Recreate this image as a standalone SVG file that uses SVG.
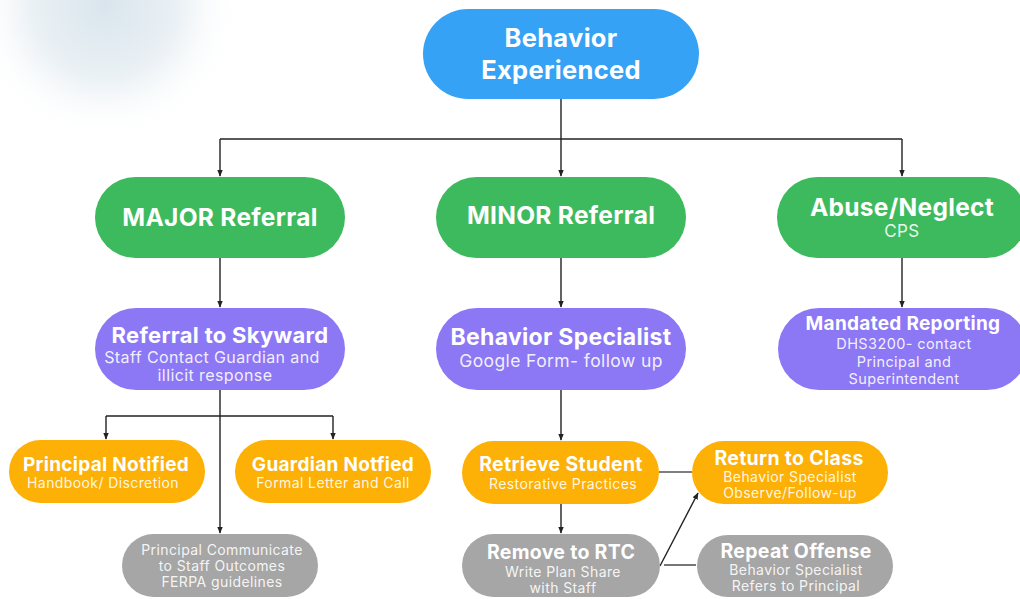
<svg xmlns="http://www.w3.org/2000/svg" width="1020" height="599" viewBox="0 0 1020 599">
  <style>
    .t { font-family: Inter, "Noto Sans", "Liberation Sans", sans-serif; fill: #ffffff; fill-opacity: 0.9; text-anchor: middle; letter-spacing: 0.4px; }
    .b { font-weight: 700; letter-spacing: 0.3px; fill-opacity: 1; }
    .blue { fill: #36A2F5; }
    .green { fill: #3DBA5E; }
    .purple { fill: #8C78F5; }
    .orange { fill: #FDB005; }
    .gray { fill: #A6A6A6; }
    .ln { fill: none; stroke: #222222; stroke-width: 1.4; }
    .ln2 { fill: none; stroke: #555555; stroke-width: 1.6; }
  </style>
  <defs>
    <radialGradient id="haze" cx="105" cy="5" r="135" gradientUnits="userSpaceOnUse">
      <stop offset="0" stop-color="#d9e5ed"/>
      <stop offset="0.55" stop-color="#ebf1f5"/>
      <stop offset="1" stop-color="#ffffff" stop-opacity="0"/>
    </radialGradient>
    <marker id="arr" viewBox="0 0 10 10" refX="9" refY="5" markerWidth="5" markerHeight="5" orient="auto">
      <path d="M0,1 L10,5 L0,9 z" fill="#222222"/>
    </marker>
  </defs>

  <rect width="1020" height="599" fill="#ffffff"/>
  <rect width="300" height="160" fill="url(#haze)"/>

  <g id="connectors">
    <path class="ln" d="M561,99 V139"/>
    <path class="ln" d="M220,139 H902"/>
    <path class="ln" d="M220,139 V176" marker-end="url(#arr)"/>
    <path class="ln" d="M561,139 V176" marker-end="url(#arr)"/>
    <path class="ln" d="M902,139 V176" marker-end="url(#arr)"/>
    <path class="ln" d="M220,258 V307" marker-end="url(#arr)"/>
    <path class="ln" d="M561,258 V307" marker-end="url(#arr)"/>
    <path class="ln" d="M902,258 V307" marker-end="url(#arr)"/>
    <path class="ln" d="M106,416 H333"/>
    <path class="ln" d="M106,416 V439" marker-end="url(#arr)"/>
    <path class="ln" d="M333,416 V439" marker-end="url(#arr)"/>
    <path class="ln" d="M220,390 V533" marker-end="url(#arr)"/>
    <path class="ln" d="M561,390 V440" marker-end="url(#arr)"/>
    <path class="ln" d="M561,504 V533" marker-end="url(#arr)"/>
    <path class="ln2" d="M659,472 H692"/>
    <path class="ln" d="M660,566 L698,493" marker-end="url(#arr)"/>
    <path class="ln2" d="M664,565 H696"/>
  </g>

  <g id="behavior-experienced">
    <rect class="blue" x="423" y="9" width="276" height="90" rx="45"/>
    <text class="t b" x="561" y="47" font-size="25.5">Behavior</text>
    <text class="t b" x="561" y="79" font-size="25.5">Experienced</text>
  </g>

  <g id="major-referral">
    <rect class="green" x="95" y="177" width="250" height="81" rx="40.5"/>
    <text class="t b" x="220" y="226" font-size="24.5">MAJOR Referral</text>
  </g>

  <g id="minor-referral">
    <rect class="green" x="436" y="177" width="250" height="81" rx="40.5"/>
    <text class="t b" x="561" y="224" font-size="24.5">MINOR Referral</text>
  </g>

  <g id="abuse-neglect">
    <rect class="green" x="777" y="177" width="250" height="81" rx="40.5"/>
    <text class="t b" x="902" y="216" font-size="24.5">Abuse/Neglect</text>
    <text class="t" x="902" y="237" font-size="17">CPS</text>
  </g>

  <g id="referral-skyward">
    <rect class="purple" x="95" y="308" width="250" height="82" rx="41"/>
    <text class="t b" x="220" y="343" font-size="22">Referral to Skyward</text>
    <text class="t" x="212" y="363" font-size="16">Staff Contact Guardian and</text>
    <text class="t" x="215" y="381" font-size="16">illicit response</text>
  </g>

  <g id="behavior-specialist">
    <rect class="purple" x="436" y="308" width="250" height="82" rx="41"/>
    <text class="t b" x="561" y="345" font-size="23">Behavior Specialist</text>
    <text class="t" x="561" y="367" font-size="17.5">Google Form- follow up</text>
  </g>

  <g id="mandated-reporting">
    <rect class="purple" x="778" y="308" width="250" height="82" rx="41"/>
    <text class="t b" x="903" y="330" font-size="19">Mandated Reporting</text>
    <text class="t" x="904" y="349" font-size="14.5">DHS3200- contact</text>
    <text class="t" x="904" y="367" font-size="14.5">Principal and</text>
    <text class="t" x="904" y="384" font-size="14.5">Superintendent</text>
  </g>

  <g id="principal-notified">
    <rect class="orange" x="9" y="440" width="196" height="63" rx="31.5"/>
    <text class="t b" x="106" y="471" font-size="19">Principal Notified</text>
    <text class="t" x="103" y="488" font-size="14">Handbook/ Discretion</text>
  </g>

  <g id="guardian-notified">
    <rect class="orange" x="235" y="440" width="196" height="63" rx="31.5"/>
    <text class="t b" x="333" y="471" font-size="19">Guardian Notfied</text>
    <text class="t" x="333" y="488" font-size="14">Formal Letter and Call</text>
  </g>

  <g id="principal-communicate">
    <rect class="gray" x="122" y="534" width="196" height="63" rx="31.5"/>
    <text class="t" x="222" y="555" font-size="14">Principal Communicate</text>
    <text class="t" x="222" y="571" font-size="14">to Staff Outcomes</text>
    <text class="t" x="222" y="587" font-size="14">FERPA guidelines</text>
  </g>

  <g id="retrieve-student">
    <rect class="orange" x="462" y="441" width="197" height="63" rx="31.5"/>
    <text class="t b" x="561" y="471" font-size="19.5">Retrieve Student</text>
    <text class="t" x="563" y="489" font-size="14">Restorative Practices</text>
  </g>

  <g id="remove-rtc">
    <rect class="gray" x="462" y="534" width="198" height="63" rx="31.5"/>
    <text class="t b" x="561" y="559" font-size="19.5">Remove to RTC</text>
    <text class="t" x="563" y="577" font-size="14">Write Plan Share</text>
    <text class="t" x="563" y="593" font-size="14">with Staff</text>
  </g>

  <g id="return-class">
    <rect class="orange" x="692" y="441" width="196" height="63" rx="31.5"/>
    <text class="t b" x="789" y="465" font-size="19.5">Return to Class</text>
    <text class="t" x="790" y="482" font-size="14">Behavior Specialist</text>
    <text class="t" x="790" y="498" font-size="14">Observe/Follow-up</text>
  </g>

  <g id="repeat-offense">
    <rect class="gray" x="697" y="535" width="196" height="62" rx="31"/>
    <text class="t b" x="796" y="558" font-size="19.5">Repeat Offense</text>
    <text class="t" x="796" y="575" font-size="14">Behavior Specialist</text>
    <text class="t" x="796" y="591" font-size="14">Refers to Principal</text>
  </g>
</svg>
